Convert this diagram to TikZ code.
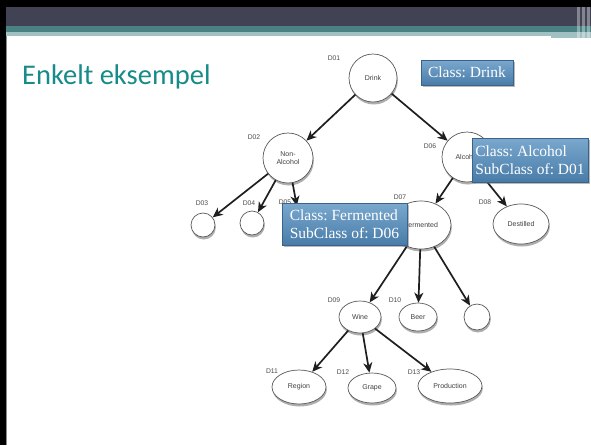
\documentclass[tikz,border=0pt]{standalone}
\usepackage{fontspec}
\setmainfont{Liberation Serif}
\newfontfamily\titlefont{Carlito}
\newfontfamily\diafont{Liberation Sans}
\usetikzlibrary{shapes.geometric,shadows,arrows.meta}
\definecolor{barDark}{RGB}{65,67,84}
\definecolor{barTeal}{RGB}{74,130,132}
\definecolor{barLight}{RGB}{160,192,194}
\definecolor{titleTeal}{RGB}{22,140,136}
\definecolor{boxTop}{RGB}{122,168,206}
\definecolor{boxBot}{RGB}{72,124,168}
\definecolor{boxEdge}{RGB}{58,98,138}
\tikzset{
  nbase/.style={draw=black!65, line width=0.7pt, fill=white, inner sep=0pt,
    font=\diafont\fontsize{7}{8}\selectfont, text=black!75, align=center,
    drop shadow={shadow xshift=0.8pt, shadow yshift=-2.5pt, fill=black!70, opacity=0.45}},
  cnode/.style={nbase, circle},
  enode/.style={nbase, ellipse},
  idlabel/.style={font=\diafont\fontsize{6.8}{7.5}\selectfont, text=black!70, inner sep=0pt},
  arr/.style={-{Stealth[length=10pt,width=9pt,inset=3pt]}, line width=1.7pt, draw=black!88},
  classbox/.style={draw=boxEdge, line width=0.8pt, top color=boxTop, bottom color=boxBot,
    text=white, font=\fontsize{15.5}{17.5}\selectfont, align=left, inner sep=0pt,
    drop shadow={shadow xshift=1.5pt, shadow yshift=-1.5pt, fill=black!60, opacity=0.45}},
}
\begin{document}
\frenchspacing
\begin{tikzpicture}[x=1pt,y=-1pt]
\useasboundingbox (0,0) rectangle (591,445);
% slide frame
\fill[white] (0,0) rectangle (591,445);
\fill[black] (0,0) rectangle (591,7);
\fill[black] (0,0) rectangle (6,445);
\fill[barDark] (6,7) rectangle (591,26);
\fill[barTeal] (6,26) rectangle (591,32);
\fill[barLight] (6,32) rectangle (591,36);
\fill[barLight] (551,36) rectangle (591,38);
\draw[black!45, line width=0.8pt] (6.5,36) -- (6.5,445);
\fill[white, opacity=0.35] (577,7) rectangle (580,38);
\fill[white, opacity=0.35] (582,7) rectangle (585,38);
\fill[white, opacity=0.35] (587,7) rectangle (590,38);
% title
\node[anchor=base west, inner sep=0pt, font=\titlefont\fontsize{28.5}{30}\selectfont, text=titleTeal] (title) at (22,84) {Enkelt eksempel};
% tree nodes
\node[cnode, minimum size=48pt] (d01) at (373,78) {Drink};
\node[cnode, minimum size=50pt] (d02) at (288,158) {Non-\\Alcohol};
\node[cnode, minimum size=50pt] (d06) at (467,157) {Alcohol};
\node[cnode, minimum size=24pt] (d03) at (203,225) {};
\node[cnode, minimum size=24pt] (d04) at (252,223) {};
\node[cnode, minimum size=24pt] (d05) at (299,218) {};
\node[enode, minimum width=60pt, minimum height=48pt] (d07) at (421,225) {Fermented};
\node[enode, minimum width=56pt, minimum height=40pt] (d08) at (521,224) {Destilled};
\node[enode, minimum width=42pt, minimum height=32pt] (d09) at (360,317) {Wine};
\node[enode, minimum width=38pt, minimum height=28pt] (d10) at (418,317) {Beer};
\node[cnode, minimum size=26pt] (d0x) at (477,317) {};
\node[enode, minimum width=54pt, minimum height=34pt] (d11) at (299,387) {Region};
\node[enode, minimum width=48pt, minimum height=30pt] (d12) at (372,388) {Grape};
\node[enode, minimum width=64pt, minimum height=34pt] (d13) at (450,386) {Production};
% id labels
\node[idlabel] (l01) at (334,58) {D01};
\node[idlabel] (l02) at (254,137) {D02};
\node[idlabel] (l06) at (430,146) {D06};
\node[idlabel] (l03) at (202,203) {D03};
\node[idlabel] (l04) at (249,203) {D04};
\node[idlabel] (l05) at (285,202) {D05};
\node[idlabel] (l07) at (400,197) {D07};
\node[idlabel] (l08) at (485,202) {D08};
\node[idlabel] (l09) at (334,300) {D09};
\node[idlabel] (l10) at (395,300) {D10};
\node[idlabel] (l11) at (272,371) {D11};
\node[idlabel] (l12) at (343,372) {D12};
\node[idlabel] (l13) at (414,372) {D13};
% connectors
\draw[arr] (d01) -- (d02);
\draw[arr] (d01) -- (d06);
\draw[arr] (d02) -- (d03);
\draw[arr] (d02) -- (d04);
\draw[arr] (d02) -- (d05);
\draw[arr] (d06) -- (d07);
\draw[arr] (d06) -- (d08);
\draw[arr] (d07) -- (d09);
\draw[arr] (d07) -- (d10);
\draw[arr] (d07) -- (d0x);
\draw[arr] (d09) -- (d11);
\draw[arr] (d09) -- (d12);
\draw[arr] (d09) -- (d13);
% class boxes
\node[classbox, minimum width=92pt, minimum height=25pt] (cDrink) at (467,72.5) {Class: Drink};
\node[classbox, minimum width=116pt, minimum height=44pt] (cAlc) at (530,160) {Class: Alcohol\\SubClass of: D01};
\node[classbox, minimum width=125pt, minimum height=42pt] (cFerm) at (344.5,224) {Class: Fermented\\SubClass of: D06};
\end{tikzpicture}
\end{document}
